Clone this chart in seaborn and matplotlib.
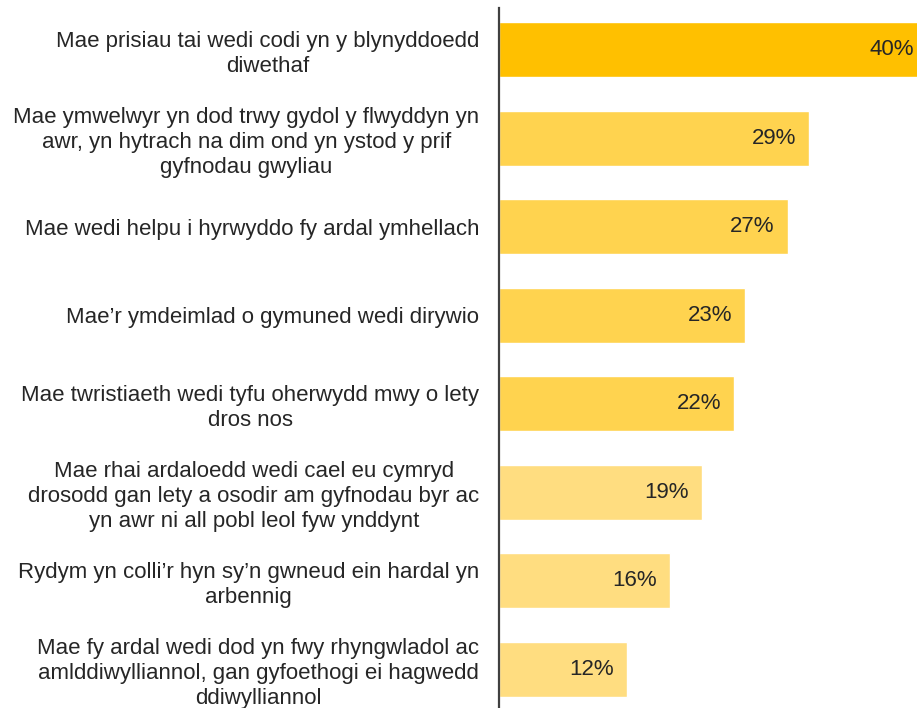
import matplotlib
matplotlib.use("Agg")
import matplotlib.pyplot as plt
import seaborn as sns
import pandas as pd

# --- data
labels = [
    "Mae prisiau tai wedi codi yn y blynyddoedd\ndiwethaf",
    "Mae ymwelwyr yn dod trwy gydol y flwyddyn yn\nawr, yn hytrach na dim ond yn ystod y prif\ngyfnodau gwyliau",
    "Mae wedi helpu i hyrwyddo fy ardal ymhellach",
    "Mae\u2019r ymdeimlad o gymuned wedi dirywio",
    "Mae twristiaeth wedi tyfu oherwydd mwy o lety\ndros nos",
    "Mae rhai ardaloedd wedi cael eu cymryd\ndrosodd gan lety a osodir am gyfnodau byr ac\nyn awr ni all pobl leol fyw ynddynt",
    "Rydym yn colli\u2019r hyn sy\u2019n gwneud ein hardal yn\narbennig",
    "Mae fy ardal wedi dod yn fwy rhyngwladol ac\namlddiwylliannol, gan gyfoethogi ei hagwedd\nddiwylliannol",
]
values = [40, 29, 27, 23, 22, 19, 16, 12]
colours = ["#FFC000", "#FFD34F", "#FFD34F", "#FFD34F", "#FFD34F",
           "#FFDD80", "#FFDD80", "#FFDD80"]

df = pd.DataFrame({"label": labels, "value": values})

sns.set_style("white")
plt.rcParams["font.family"] = ["Liberation Sans", "DejaVu Sans"]

fig = plt.figure(figsize=(9.17, 7.08), dpi=100)
ax = fig.add_axes([0.544, 0.0, 0.456, 0.9887])

sns.barplot(data=df, x="value", y="label", hue="label", palette=colours,
            legend=False, width=0.62, saturation=1, ax=ax)

# the top bar runs past the right edge, as in the original
ax.set_xlim(0, 39.05)
ax.set_ylim(len(labels) - 1 + 0.435, -0.47)

for i, v in enumerate(values):
    ax.annotate(f"{v}%", xy=(v, i), xytext=(-9.5, 0),
                textcoords="offset points", ha="right", va="center",
                fontsize=16, color="#262626", annotation_clip=False)

ax.set_xlabel("")
ax.set_ylabel("")
ax.set_xticks([])
ax.tick_params(axis="y", length=0, pad=14, labelsize=16, labelcolor="#262626")
for t in ax.get_yticklabels():
    t.set_multialignment("center")
    t.set_linespacing(1.25)

for s in ["top", "right", "bottom"]:
    ax.spines[s].set_visible(False)
ax.spines["left"].set_color("#404040")
ax.spines["left"].set_linewidth(1.6)

fig.savefig("out.png", dpi=100)
